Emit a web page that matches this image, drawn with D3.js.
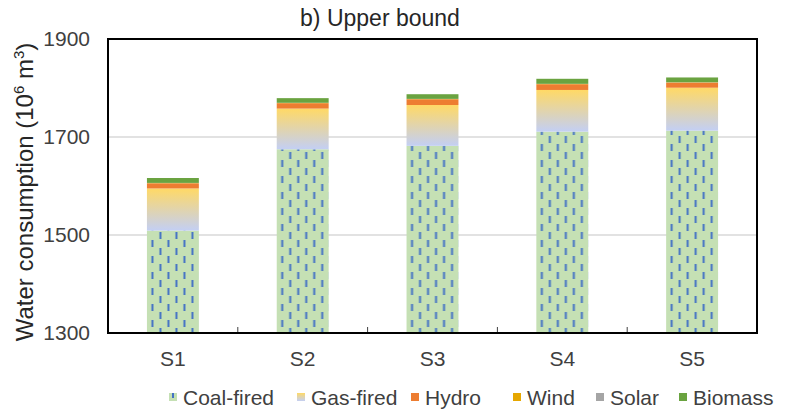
<!DOCTYPE html>
<html>
<head>
<meta charset="utf-8">
<script src="https://cdn.jsdelivr.net/npm/d3@7"></script>
<style>
  html, body { margin: 0; padding: 0; background: #fff; }
  svg { display: block; font-family: "Liberation Sans", Arial, sans-serif; }
</style>
</head>
<body>
<div id="chart"></div>
<script>
/* ===== data ===== */
const categories = ['S1', 'S2', 'S3', 'S4', 'S5'];
const coalFired  = [1509, 1675, 1682, 1711, 1713];
const gasFired   = [86, 83, 83.3, 85, 87.6];
const hydro      = [10.5, 11, 11.7, 11.7, 10.4];
const wind       = [0.5, 0.5, 0.5, 0.5, 0.5];
const solar      = [0.3, 0.3, 0.3, 0.3, 0.3];
const biomass    = [10, 9.5, 9.5, 10.3, 9.7];
const yTicks     = [1300, 1500, 1700, 1900];
const yDomain    = [1300, 1900];

const SERIES = [
  { label: 'Coal-fired', values: coalFired },
  { label: 'Gas-fired',  values: gasFired },
  { label: 'Hydro',      values: hydro,   color: '#ed7d31' },
  { label: 'Wind',       values: wind,    color: '#e6a700' },
  { label: 'Solar',      values: solar,   color: '#a5a5a5' },
  { label: 'Biomass',    values: biomass, color: '#6aa340' },
];

const width = 787, height = 417;
const margin = { top: 39, right: 30, bottom: 84, left: 108 };
const innerW = width - margin.left - margin.right;
const innerH = height - margin.top - margin.bottom;

const svg = d3.select('#chart').append('svg')
  .attr('width', width).attr('height', height);
const defs = svg.append('defs');

// gas gradient: light blue at bottom to yellow at top
const grad = defs.append('linearGradient')
  .attr('id', 'gasGrad').attr('x1', 0).attr('y1', 1).attr('x2', 0).attr('y2', 0);
grad.append('stop').attr('offset', '0%').attr('stop-color', '#c3cff4');
grad.append('stop').attr('offset', '100%').attr('stop-color', '#ffd966');

const x = d3.scaleBand()
  .domain(categories)
  .range([0, innerW])
  .paddingInner(0.6)
  .paddingOuter(0.3);

const y = d3.scaleLinear().domain(yDomain).range([innerH, 0]);

// coal pattern, one per bar so dashes line up with each bar's left edge
function coalPattern(id, x0) {
  const p = defs.append('pattern')
    .attr('id', id)
    .attr('patternUnits', 'userSpaceOnUse')
    .attr('x', x0).attr('y', 0)
    .attr('width', 16).attr('height', 16);
  p.append('rect').attr('width', 16).attr('height', 16).attr('fill', '#c5e0b4');
  p.append('rect').attr('x', 0.5).attr('y', 1).attr('width', 2).attr('height', 7).attr('fill', '#4472c4');
  p.append('rect').attr('x', 8.5).attr('y', 9).attr('width', 2).attr('height', 7).attr('fill', '#4472c4');
}

const g = svg.append('g').attr('transform', `translate(${margin.left},${margin.top})`);

// gridlines
g.append('g')
  .selectAll('line')
  .data(yTicks.slice(1, -1))
  .join('line')
  .attr('x1', 0).attr('x2', innerW)
  .attr('y1', d => y(d)).attr('y2', d => y(d))
  .attr('stroke', '#d9d9d9').attr('stroke-width', 1.5);

// stacked bars
categories.forEach((cat, i) => {
  const bx = x(cat);
  coalPattern('coal' + i, margin.left + bx);
  let cum = yDomain[0];
  SERIES.forEach((s, k) => {
    const v = k === 0 ? s.values[i] - yDomain[0] : s.values[i];
    const fill = k === 0 ? `url(#coal${i})` : k === 1 ? 'url(#gasGrad)' : s.color;
    g.append('rect')
      .attr('x', bx)
      .attr('y', y(cum + v))
      .attr('width', x.bandwidth())
      .attr('height', y(cum) - y(cum + v))
      .attr('fill', fill);
    cum += v;
  });
});

// x ticks at band boundaries
const step = x.step();
g.append('g')
  .selectAll('line')
  .data(categories.slice(1))
  .join('line')
  .attr('x1', d => x(d) - x.paddingInner() * step / 2)
  .attr('x2', d => x(d) - x.paddingInner() * step / 2)
  .attr('y1', innerH).attr('y2', innerH - 6)
  .attr('stroke', '#404040').attr('stroke-width', 1);

// plot frame
g.append('rect')
  .attr('x', 0).attr('y', 0).attr('width', innerW).attr('height', innerH)
  .attr('fill', 'none').attr('stroke', '#000').attr('stroke-width', 2);

// y tick labels
g.append('g')
  .call(d3.axisLeft(y).tickValues(yTicks).tickFormat(d3.format('d')).tickSize(0).tickPadding(18))
  .call(a => a.select('.domain').remove())
  .selectAll('text')
  .style('font-size', '21px')
  .style('font-family', '"Liberation Sans", Arial, sans-serif')
  .attr('fill', '#404040');

// x tick labels
g.append('g')
  .attr('transform', `translate(0,${innerH})`)
  .call(d3.axisBottom(x).tickSize(0).tickPadding(18))
  .call(a => a.select('.domain').remove())
  .selectAll('text')
  .style('font-size', '21px')
  .style('font-family', '"Liberation Sans", Arial, sans-serif')
  .attr('fill', '#404040');

// title
svg.append('text')
  .attr('x', 380).attr('y', 26)
  .attr('text-anchor', 'middle')
  .style('font-size', '23px')
  .attr('fill', '#262626')
  .text('b) Upper bound');

// y label
const yl = svg.append('text')
  .attr('transform', `translate(33,${margin.top + innerH / 2 + 6}) rotate(-90)`)
  .attr('text-anchor', 'middle')
  .style('font-size', '24px')
  .attr('fill', '#262626');
yl.append('tspan').text('Water consumption (10');
yl.append('tspan').attr('dy', -9).style('font-size', '15px').text('6');
yl.append('tspan').attr('dy', 9).text(' m');
yl.append('tspan').attr('dy', -9).style('font-size', '15px').text('3');
yl.append('tspan').attr('dy', 9).text(')');

// legend
const legendX = [169, 297, 411, 513, 596, 679];
const legend = svg.append('g').attr('transform', `translate(0, 397)`);
SERIES.forEach((s, k) => {
  const lg = legend.append('g').attr('transform', `translate(${legendX[k]},0)`);
  lg.append('rect').attr('x', 0).attr('y', -4).attr('width', 8).attr('height', 8)
    .attr('fill', k === 0 ? '#c5e0b4' : k === 1 ? 'url(#gasGrad)' : s.color);
  if (k === 0) {
    lg.append('rect').attr('x', 3).attr('y', -4).attr('width', 2).attr('height', 5).attr('fill', '#4472c4');
  }
  lg.append('text').attr('x', 14).attr('y', 7.5)
    .style('font-size', '21px').attr('fill', '#404040')
    .text(s.label);
});
</script>
</body>
</html>
